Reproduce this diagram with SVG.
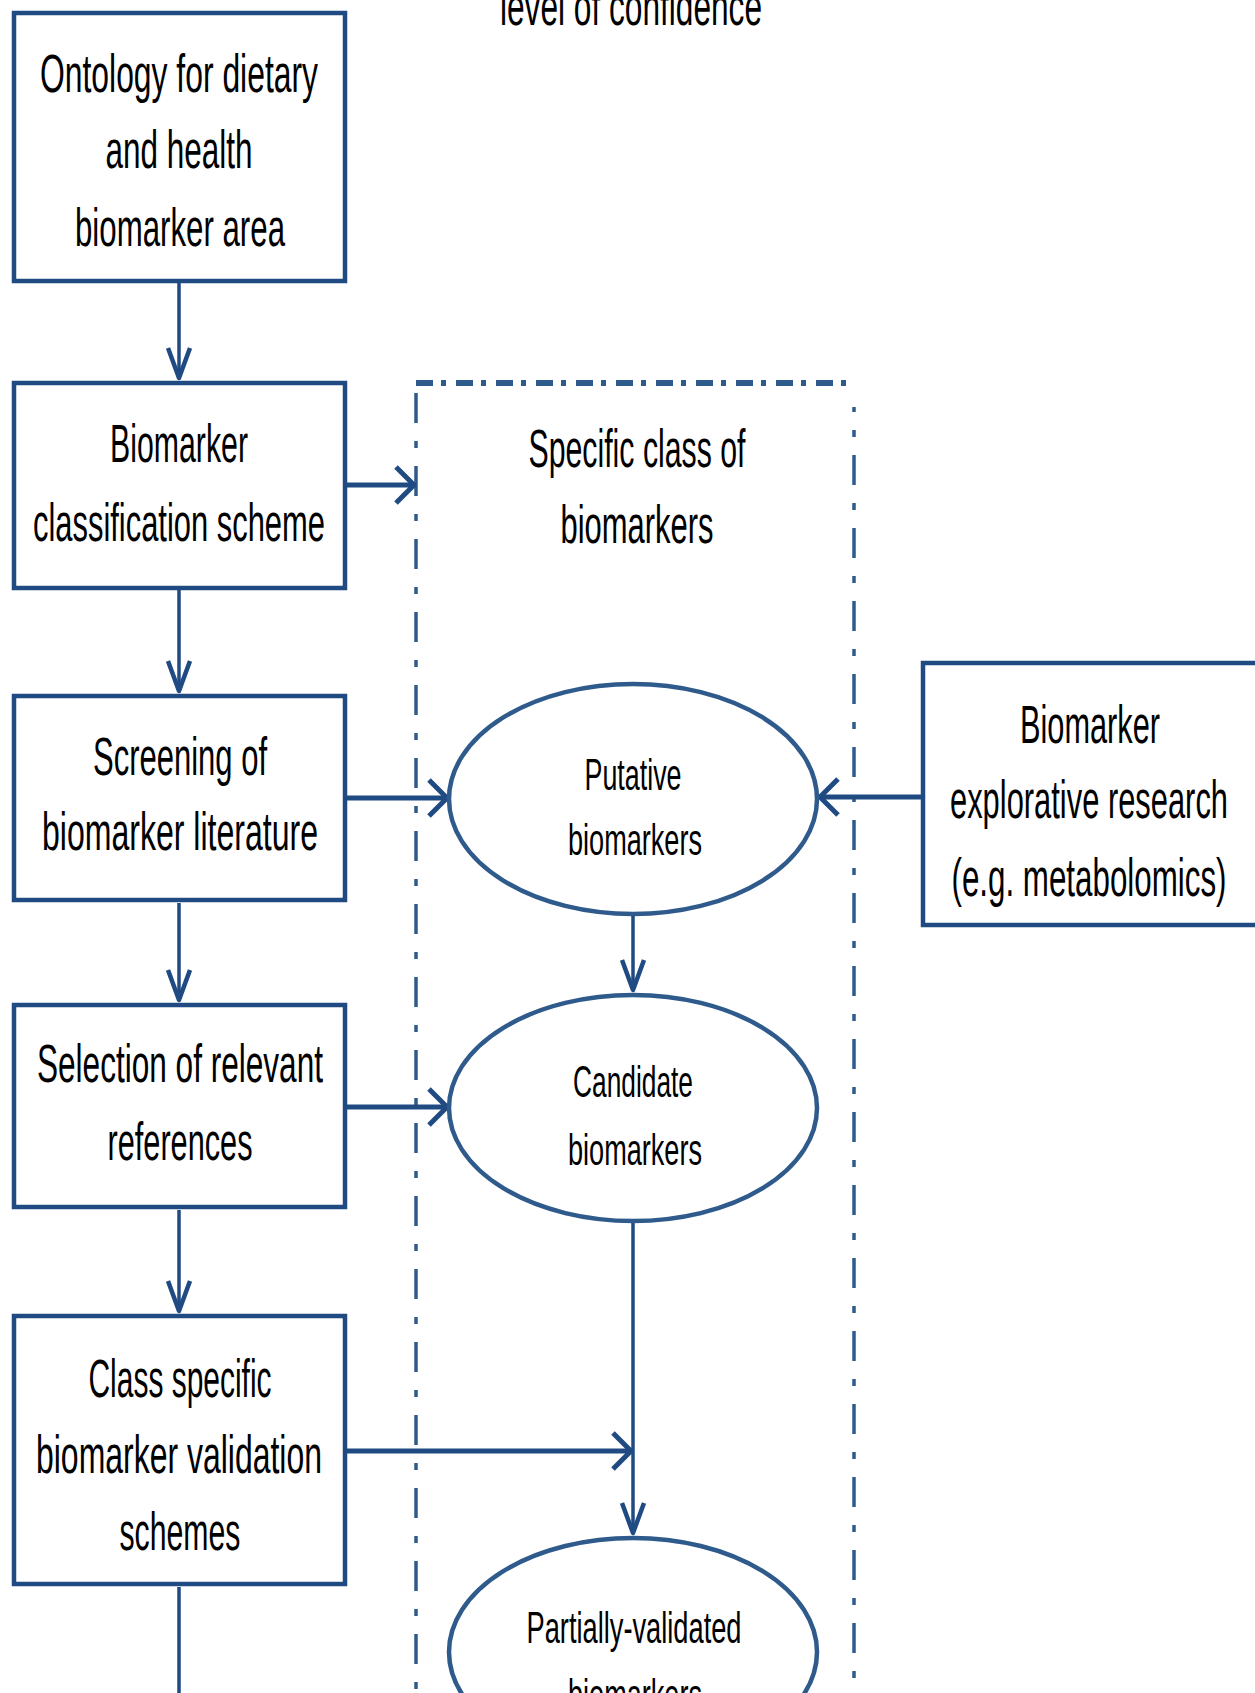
<svg xmlns="http://www.w3.org/2000/svg" width="1255" height="1693" viewBox="0 0 1255 1693">
<style>
  .box { fill: #ffffff; stroke: #204a82; stroke-width: 4.5; }
  .ell { fill: #ffffff; stroke: #2f5a8c; stroke-width: 4.5; }
  .t { font-family: "Liberation Sans", Arial, sans-serif; font-size: 54px; fill: #000000; text-anchor: middle; }
  .te { font-family: "Liberation Sans", Arial, sans-serif; font-size: 45px; fill: #000000; text-anchor: middle; }
  .v { fill: none; stroke: #204a82; stroke-width: 3.5; }
  .h { fill: none; stroke: #204a82; stroke-width: 5; }
  .dh { fill: none; stroke: #2f5a8c; stroke-width: 6; stroke-dasharray: 17 8 5 10; }
  .dv { fill: none; stroke: #2f5a8c; stroke-width: 3.5; stroke-dasharray: 30 18 7 18; }
</style>
<defs>
  <marker id="arrV" markerUnits="userSpaceOnUse" markerWidth="40" markerHeight="30" refX="30" refY="0" viewBox="-2 -15 36 30" orient="auto" overflow="visible">
    <path d="M0,-11 L30,0 L0,11" fill="none" stroke="#204a82" stroke-width="4.5" stroke-linejoin="round"/>
  </marker>
  <marker id="arrH" markerUnits="userSpaceOnUse" markerWidth="30" markerHeight="44" refX="18" refY="0" viewBox="-3 -22 26 44" orient="auto" overflow="visible">
    <path d="M0,-18 L18,0 L0,18" fill="none" stroke="#204a82" stroke-width="5" stroke-linejoin="round"/>
  </marker>
</defs>
<rect x="0" y="0" width="1255" height="1693" fill="#ffffff"/>

<g id="title">
  <text class="t" x="631" y="25" textLength="262" lengthAdjust="spacingAndGlyphs">level of confidence</text>
</g>

<g id="class-frame">
  <line class="dh" x1="416" y1="383" x2="854" y2="383"/>
  <line class="dv" x1="416" y1="393" x2="416" y2="1700"/>
  <line class="dv" x1="854" y1="407" x2="854" y2="1700" style="stroke-dashoffset: 25"/>
  <text class="t" x="637" y="467" textLength="217" lengthAdjust="spacingAndGlyphs">Specific class of</text>
  <text class="t" x="637" y="543" textLength="153" lengthAdjust="spacingAndGlyphs">biomarkers</text>
</g>

<g id="connectors">
  <path class="v" d="M179,283 V378" marker-end="url(#arrV)"/>
  <path class="v" d="M179,590 V691" marker-end="url(#arrV)"/>
  <path class="v" d="M179,903 V1000" marker-end="url(#arrV)"/>
  <path class="v" d="M179,1210 V1311" marker-end="url(#arrV)"/>
  <path class="v" d="M179,1587 V1700"/>
  <path class="h" d="M347,485 H414" marker-end="url(#arrH)"/>
  <path class="h" d="M347,798 H447" marker-end="url(#arrH)"/>
  <path class="h" d="M347,1107 H447" marker-end="url(#arrH)"/>
  <path class="h" d="M921,797 H820" marker-end="url(#arrH)"/>
  <path class="h" d="M347,1451 H631" marker-end="url(#arrH)"/>
  <path class="v" d="M633,916 V990" marker-end="url(#arrV)"/>
  <path class="v" d="M633,1223 V1533" marker-end="url(#arrV)"/>
</g>

<g id="n-ontology">
  <rect class="box" x="14" y="13" width="331" height="268"/>
  <text class="t" x="179" y="92" textLength="278" lengthAdjust="spacingAndGlyphs">Ontology for dietary</text>
  <text class="t" x="179" y="168" textLength="147" lengthAdjust="spacingAndGlyphs">and health</text>
  <text class="t" x="180" y="246" textLength="210" lengthAdjust="spacingAndGlyphs">biomarker area</text>
</g>

<g id="n-classification">
  <rect class="box" x="14" y="383" width="331" height="205"/>
  <text class="t" x="179" y="462" textLength="138" lengthAdjust="spacingAndGlyphs">Biomarker</text>
  <text class="t" x="179" y="541" textLength="292" lengthAdjust="spacingAndGlyphs">classification scheme</text>
</g>

<g id="n-screening">
  <rect class="box" x="14" y="696" width="331" height="204"/>
  <text class="t" x="180" y="775" textLength="174" lengthAdjust="spacingAndGlyphs">Screening of</text>
  <text class="t" x="180" y="850" textLength="276" lengthAdjust="spacingAndGlyphs">biomarker literature</text>
</g>

<g id="n-selection">
  <rect class="box" x="14" y="1005" width="331" height="202"/>
  <text class="t" x="180" y="1082" textLength="286" lengthAdjust="spacingAndGlyphs">Selection of relevant</text>
  <text class="t" x="180" y="1160" textLength="145" lengthAdjust="spacingAndGlyphs">references</text>
</g>

<g id="n-validation">
  <rect class="box" x="14" y="1316" width="331" height="268"/>
  <text class="t" x="180" y="1397" textLength="183" lengthAdjust="spacingAndGlyphs">Class specific</text>
  <text class="t" x="179" y="1473" textLength="286" lengthAdjust="spacingAndGlyphs">biomarker validation</text>
  <text class="t" x="180" y="1550" textLength="121" lengthAdjust="spacingAndGlyphs">schemes</text>
</g>

<g id="n-explorative">
  <rect class="box" x="923" y="663" width="340" height="262"/>
  <text class="t" x="1090" y="743" textLength="140" lengthAdjust="spacingAndGlyphs">Biomarker</text>
  <text class="t" x="1089" y="818" textLength="278" lengthAdjust="spacingAndGlyphs">explorative research</text>
  <text class="t" x="1089" y="896" textLength="275" lengthAdjust="spacingAndGlyphs">(e.g. metabolomics)</text>
</g>

<g id="n-putative">
  <ellipse class="ell" cx="633" cy="799" rx="184" ry="115"/>
  <text class="te" x="633" y="790" textLength="97" lengthAdjust="spacingAndGlyphs">Putative</text>
  <text class="te" x="635" y="855" textLength="134" lengthAdjust="spacingAndGlyphs">biomarkers</text>
</g>

<g id="n-candidate">
  <ellipse class="ell" cx="633" cy="1108" rx="184" ry="113"/>
  <text class="te" x="633" y="1097" textLength="120" lengthAdjust="spacingAndGlyphs">Candidate</text>
  <text class="te" x="635" y="1165" textLength="134" lengthAdjust="spacingAndGlyphs">biomarkers</text>
</g>

<g id="n-partially">
  <ellipse class="ell" cx="633" cy="1652" rx="184" ry="114"/>
  <text class="te" x="634" y="1643" textLength="215" lengthAdjust="spacingAndGlyphs">Partially-validated</text>
  <text class="te" x="635" y="1710" textLength="134" lengthAdjust="spacingAndGlyphs">biomarkers</text>
</g>
</svg>
